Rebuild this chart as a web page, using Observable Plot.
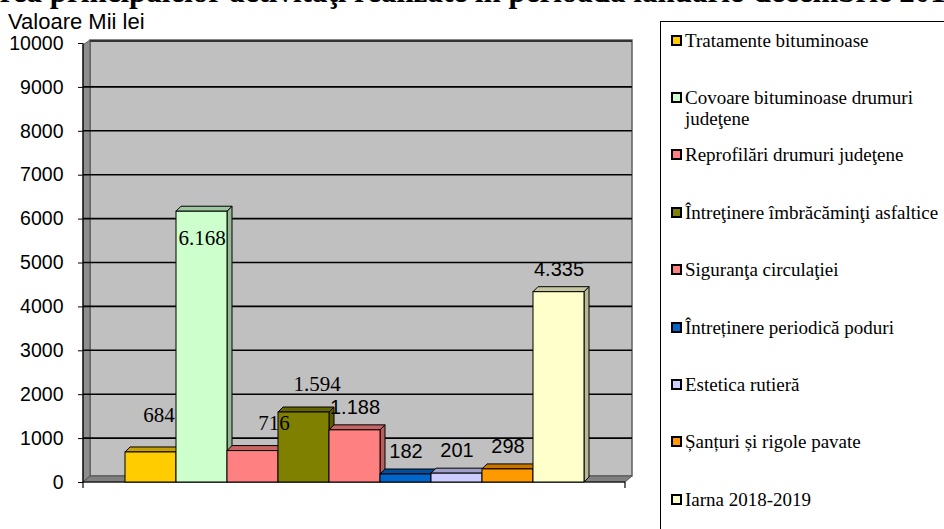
<!DOCTYPE html>
<html><head><meta charset="utf-8">
<script src="https://cdn.jsdelivr.net/npm/d3@7"></script>
<script src="https://cdn.jsdelivr.net/npm/@observablehq/plot@0.6"></script>
<style>
html,body{margin:0;padding:0;background:#fff;}
body{width:944px;height:529px;overflow:hidden;position:relative;}
#title{position:absolute;left:-75px;top:-24px;white-space:nowrap;font-family:"Liberation Serif","Times New Roman",serif;font-weight:bold;font-size:31px;line-height:31px;color:#000;}
#ylabel{position:absolute;left:8px;top:13px;font-family:"Liberation Sans",Arial,sans-serif;font-size:22px;line-height:17px;color:#000;white-space:nowrap;}
#chart{position:absolute;left:0;top:0;}
#legend{position:absolute;left:660px;top:21px;width:300px;height:540px;border:1px solid #000;box-sizing:border-box;background:#fff;}
.item{position:absolute;left:10px;display:flex;align-items:flex-start;font-family:"Liberation Serif","Times New Roman",serif;font-size:19px;line-height:21px;color:#000;}
.sw{width:11px;height:11px;border:2px solid #000;box-sizing:border-box;margin-top:5px;flex:none;}
.txt{margin-left:3px;max-width:262px;}
</style></head><body>
<div id="title">Valoarea principalelor activităţi realizate în perioada ianuarie-decembrie 2019</div>
<div id="chart"></div>
<div id="ylabel">Valoare Mii lei</div>
<div id="legend"></div>
<script>
// ---- data ----
const categories = [
  "Tratamente bituminoase",
  "Covoare bituminoase drumuri judeţene",
  "Reprofilări drumuri judeţene",
  "Întreţinere îmbrăcăminţi asfaltice",
  "Siguranţa circulaţiei",
  "Întreținere periodică poduri",
  "Estetica rutieră",
  "Șanțuri și rigole pavate",
  "Iarna 2018-2019"
];
const values = [684, 6168, 716, 1594, 1188, 182, 201, 298, 4335];
const valueLabels = ["684", "6.168", "716", "1.594", "1.188", "182", "201", "298", "4.335"];
const colors = ["#FFCC00", "#CCFFCC", "#FF8080", "#808000", "#FF8080", "#0066CC", "#CCCCFF", "#FF9900", "#FFFFCC"];
const yTicks = [0, 1000, 2000, 3000, 4000, 5000, 6000, 7000, 8000, 9000, 10000];
const yTitle = "Valoare Mii lei";

const data = categories.map((c, i) => ({category: c, value: values[i], color: colors[i], label: valueLabels[i]}));

// ---- decorative 3D wall (uses plot scales) ----
const wall = (index, scales) => {
  const g = d3.create("svg:g");
  const x = scales.x, y = scales.y;
  const [xL, xR] = x.range();
  const y0 = y(0), yT = y(yTicks[yTicks.length - 1]);
  const dx = 7, dy = 6;
  g.append("rect").attr("x", xL + dx).attr("y", yT - 3).attr("width", xR - xL).attr("height", (y0 - dy) - (yT - 3))
    .attr("fill", "#C0C0C0").attr("stroke", "#606060").attr("stroke-width", 1.5);
  g.append("polygon").attr("points", [[xL, yT + 2], [xL + dx, yT - 3], [xL + dx, y0 - dy], [xL, y0]].join(" "))
    .attr("fill", "#8E8E8E").attr("stroke", "#555").attr("stroke-width", 1);
  g.append("polygon").attr("points", [[xL, y0], [xR, y0], [xR + dx, y0 - dy], [xL + dx, y0 - dy]].join(" "))
    .attr("fill", "#808080").attr("stroke", "#555").attr("stroke-width", 1);
  yTicks.slice(1, -1).forEach(v => {
    g.append("line").attr("x1", xL).attr("x2", xR + dx).attr("y1", y(v)).attr("y2", y(v))
      .attr("stroke", "#000").attr("stroke-width", 1.6);
  });
  g.append("line").attr("x1", xL + dx).attr("x2", xR + dx).attr("y1", yT - 2).attr("y2", yT - 2)
    .attr("stroke", "#333").attr("stroke-width", 2);
  g.append("line").attr("x1", xL).attr("x2", xL).attr("y1", yT).attr("y2", y0 + 6).attr("stroke", "#000").attr("stroke-width", 1.2);
  g.append("line").attr("x1", xL).attr("x2", xR).attr("y1", y0).attr("y2", y0).attr("stroke", "#000").attr("stroke-width", 1.2);
  g.append("line").attr("x1", xR).attr("x2", xR).attr("y1", y0).attr("y2", y0 + 6).attr("stroke", "#000").attr("stroke-width", 1.2);
  return g.node();
};

// ---- 3D depth faces of bars ----
const depth = (index, scales) => {
  const g = d3.create("svg:g");
  const x = scales.x, y = scales.y, bw = x.bandwidth(), dd = 5;
  const yb = y(0);
  data.forEach(d => {
    const x1 = x(d.category), x2 = x1 + bw, yt = y(d.value);
    const side = d3.color(d.color).darker(0.9).formatHex();
    const top = d3.color(d.color).darker(0.7).formatHex();
    g.append("polygon").attr("points", [[x2, yb], [x2, yt], [x2 + dd, yt - dd], [x2 + dd, yb - dd]].join(" "))
      .attr("fill", side).attr("stroke", "#000").attr("stroke-width", 1);
    g.append("polygon").attr("points", [[x1, yt], [x1 + dd, yt - dd], [x2 + dd, yt - dd], [x2, yt]].join(" "))
      .attr("fill", top).attr("stroke", "#000").attr("stroke-width", 1);
  });
  return g.node();
};

const serif = '"Liberation Serif", "Times New Roman", serif';
const sans = '"Liberation Sans", Arial, sans-serif';
const lab = (i, dx, dy) => Plot.text(data.filter((d, j) => j === i), {
  x: "category", y: "value", text: "label", fontFamily: serif, fontSize: 21, fill: "#000", dx, dy, ariaLabel: "serif-label"
});
const sansLabels = Plot.text(data.filter((d, j) => j >= 4), {
  x: "category", y: "value", text: "label", fontFamily: sans, fontSize: 20, fill: "#000", dy: -23
});

const plot = Plot.plot({
  width: 660,
  height: 529,
  marginLeft: 83,
  marginRight: 35,
  marginTop: 43,
  marginBottom: 47,
  style: {background: "transparent", fontFamily: sans, fontSize: "19.5px", color: "#000", overflow: "visible"},
  x: {domain: categories, axis: null, paddingInner: 0, paddingOuter: 0.745},
  y: {domain: [yTicks[0], yTicks[yTicks.length - 1]], ticks: yTicks.length - 1, tickSize: 5, tickPadding: 15, label: null, tickFormat: d => String(d)},
  color: {type: "identity"},
  marks: [
    wall,
    depth,
    Plot.barY(data, {x: "category", y: "value", fill: "color", stroke: "#000", strokeWidth: 1}),
    lab(0, 8, -37),
    lab(1, 0, 27),
    lab(2, 21, -28),
    lab(3, 13, -28),
    sansLabels
  ]
});
document.getElementById("chart").appendChild(plot);
d3.select(plot).selectAll('g[aria-label="serif-label"] text').style("font-family", serif);
document.getElementById("ylabel").textContent = yTitle;

// ---- legend ----
const legend = document.getElementById("legend");
categories.forEach((c, i) => {
  const item = document.createElement("div");
  item.className = "item";
  item.style.top = (39 + 57.4 * i - 21 - 10.5) + "px";
  const sw = document.createElement("div");
  sw.className = "sw";
  sw.style.background = colors[i];
  const t = document.createElement("div");
  t.className = "txt";
  t.textContent = c;
  item.appendChild(sw);
  item.appendChild(t);
  legend.appendChild(item);
});
</script>
</body></html>
